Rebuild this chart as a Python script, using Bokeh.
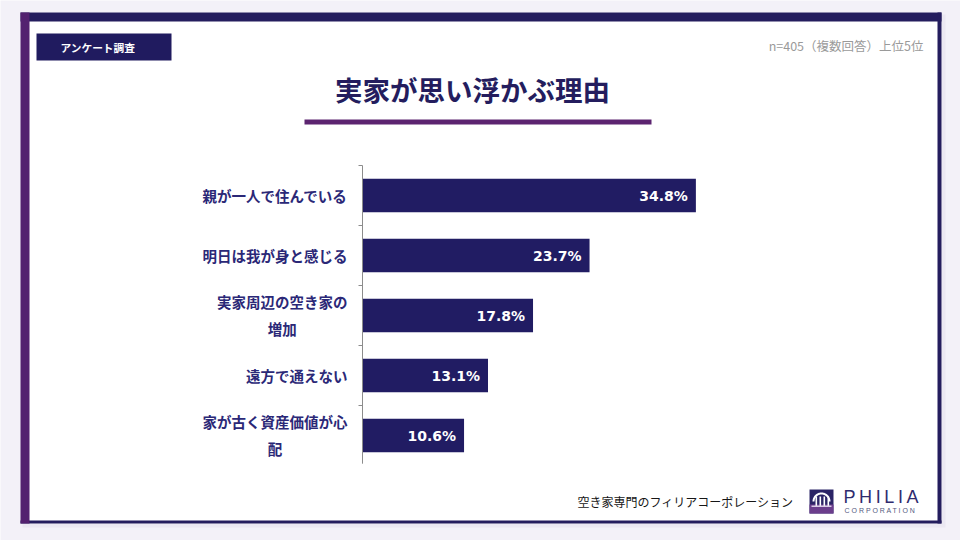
import numpy as np
from bokeh.plotting import figure
from bokeh.models import Range1d, ColumnDataSource
from bokeh.core.properties import value
from bokeh.embed import file_html
from bokeh.resources import INLINE

# Survey: reasons the family home comes to mind (n=405, multiple answers, top 5)
categories = ["親が一人で住んでいる", "明日は我が身と感じる", "実家周辺の空き家の増加",
              "遠方で通えない", "家が古く資産価値が心配"]
label_lines = [["親が一人で住んでいる"], ["明日は我が身と感じる"], ["実家周辺の空き家の", "増加"],
               ["遠方で通えない"], ["家が古く資産価値が心", "配"]]
shares = [34.8, 23.7, 17.8, 13.1, 10.6]

title_text = "実家が思い浮かぶ理由"
badge_text = "アンケート調査"
note_text = "n=405（複数回答）上位5位"
footer_text = "空き家専門のフィリアコーポレーション"

# ---- layout constants (pixels) ----
W, H = 960, 540
X0_PX = 362          # pixel column of the 0% line
PX_PER_PCT = 9.58    # horizontal pixels per percentage point
ROW0_PX = 195        # centre of the first row
ROW_PX = 60          # row pitch
BAR_H = 0.555        # bar thickness as share of row pitch
LABEL_FS = 14.5

NAVY = "#241d5e"
PURPLE = "#53216f"
BAR = "#211c63"
LABEL = "#2b2877"
BG = "#f3f1f8"
FONT = value("Noto Sans CJK JP")

p = figure(width=W, height=H, output_backend="svg", toolbar_location=None,
           x_range=Range1d(-X0_PX / PX_PER_PCT, (W - X0_PX) / PX_PER_PCT),
           y_range=Range1d((H - ROW0_PX) / ROW_PX, -ROW0_PX / ROW_PX),
           x_axis_location=None, y_axis_location=None, min_border=0,
           background_fill_color=BG, border_fill_color=BG, outline_line_color=None)
p.grid.visible = False
p.extra_x_ranges = {"px": Range1d(0, W)}
p.extra_y_ranges = {"px": Range1d(H, 0)}


def box(l, r, t, b, color):
    p.quad(left=l, right=r, top=t, bottom=b, fill_color=color, line_color=None,
           x_range_name="px", y_range_name="px")


def caption(x, y, text, size, color, align="left", style="normal", font=FONT):
    p.text(x=[x], y=[y], text=[text], text_font=font, text_font_size=size,
           text_color=color, text_align=align, text_baseline="middle",
           text_font_style=style, x_range_name="px", y_range_name="px")


# ---- card frame ----
box(22, 945, 14, 527, "#ebe8f2")
box(20, 941, 12, 523, "white")
box(20, 941, 12, 21, NAVY)
box(937, 941, 12, 523, NAVY)
box(20, 941, 520, 523, NAVY)
box(20, 29, 12, 523, PURPLE)

# ---- header ----
box(36, 171, 33, 60, "#201b5f")
caption(60, 47, badge_text, "10.7px", "white", style="bold")
caption(923, 45, note_text, "12.5px", "#9a9a9a", align="right")
caption(472, 88, title_text, "27.5px", NAVY, align="center", style="bold")
box(304, 651, 119, 124, "#5c2470")

# ---- bars ----
rows = list(range(len(categories)))
src = ColumnDataSource(dict(y=rows, share=shares, cat=categories,
                            txt=[f"{v:.1f}%" for v in shares]))
p.hbar(y="y", left=0, right="share", height=BAR_H, source=src,
       fill_color=BAR, line_color=None)
p.text(x="share", y="y", text="txt", source=src, x_offset=-8,
       text_align="right", text_baseline="middle", text_color="white",
       text_font=value("DejaVu Sans"), text_font_style="bold", text_font_size="14px")

# ---- category axis ----
n = len(categories)
tick_len = 4 / PX_PER_PCT
p.segment(x0=[0], y0=[-0.5], x1=[0], y1=[n - 0.53], line_color="#8c8c8c", line_width=1)
p.segment(x0=[-tick_len] * n, y0=[i - 0.5 for i in rows], x1=[0] * n,
          y1=[i - 0.5 for i in rows], line_color="#8c8c8c", line_width=1)

# category labels: first line right-aligned to the axis, continuation lines centred under it
ra = dict(y=[], text=[], yo=[])
ce = dict(y=[], text=[], yo=[], xo=[])
for i, lines in zip(rows, label_lines):
    if len(lines) == 1:
        ra["y"].append(i); ra["text"].append(lines[0]); ra["yo"].append(0)
    else:
        ra["y"].append(i); ra["text"].append(lines[0]); ra["yo"].append(-14)
        for k, ln in enumerate(lines[1:], start=1):
            ce["y"].append(i); ce["text"].append(ln); ce["yo"].append(-14 + 27 * k)
            ce["xo"].append(-15 - len(lines[0]) * LABEL_FS / 2)
ra["x"] = [0] * len(ra["y"])
ce["x"] = [0] * len(ce["y"])
p.text(x="x", y="y", text="text", y_offset="yo", x_offset=-15, source=ColumnDataSource(ra),
       text_align="right", text_baseline="middle", text_color=LABEL, text_font=FONT,
       text_font_style="bold", text_font_size=f"{LABEL_FS}px")
p.text(x="x", y="y", text="text", y_offset="yo", x_offset="xo", source=ColumnDataSource(ce),
       text_align="center", text_baseline="middle", text_color=LABEL, text_font=FONT,
       text_font_style="bold", text_font_size=f"{LABEL_FS}px")

# ---- footer ----
caption(577, 501, footer_text, "12px", "#161616")

# logo mark
box(809, 833, 489, 513, "#2b2466")
box(809, 833, 504, 513, "#6b3d8c")
t = np.linspace(np.pi, 2 * np.pi, 30)
p.line(x=821 + 8 * np.cos(t), y=501 + 8 * np.sin(t), line_color="white", line_width=2,
       x_range_name="px", y_range_name="px")
for px_ in (815, 819, 823, 827):
    box(px_, px_ + 1.6, 496, 506, "white")
box(811, 831, 505, 506.5, "#d8cce6")
caption(843, 496, "P\u2009H\u2009I\u2009L\u2009I\u2009A", "18px", "#2f2b6e",
        font=value("Liberation Sans"))
caption(844, 510, "C O R P O R A T I O N", "7px", "#555a80", font=value("Liberation Sans"))

open("out.html", "w").write(file_html(p, INLINE))
